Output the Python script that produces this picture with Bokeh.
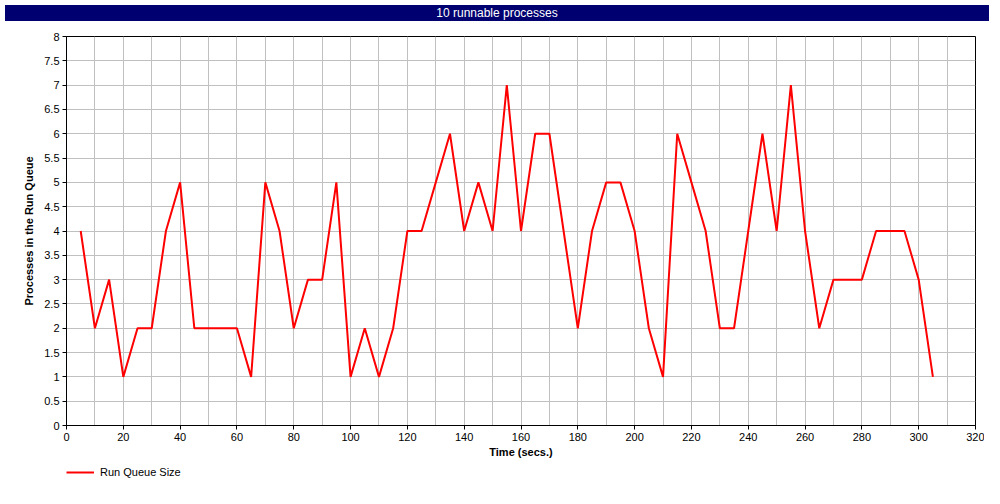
from bokeh.plotting import figure
from bokeh.models import Div, Legend, LegendItem, FixedTicker, Range1d
from bokeh.layouts import column
from bokeh.embed import file_html
from bokeh.resources import INLINE

# ---- data ----
title_text = "10 runnable processes"
series_name = "Run Queue Size"
time_secs = [5, 10, 15, 20, 25, 30, 35, 40, 45, 50, 55, 60, 65, 70, 75, 80, 85, 90,
             95, 100, 105, 110, 115, 120, 125, 130, 135, 140, 145, 150, 155, 160,
             165, 170, 175, 180, 185, 190, 195, 200, 205, 210, 215, 220, 225, 230,
             235, 240, 245, 250, 255, 260, 265, 270, 275, 280, 285, 290, 295, 300, 305]
run_queue = [4, 2, 3, 1, 2, 2, 4, 5, 2, 2, 2, 2, 1, 5, 4, 2, 3, 3,
             5, 1, 2, 1, 2, 4, 4, 5, 6, 4, 5, 4, 7, 4,
             6, 6, 4, 2, 4, 5, 5, 4, 2, 1, 6, 5, 4, 2,
             2, 4, 6, 4, 7, 4, 2, 3, 3, 3, 4, 4, 4, 3, 1]
x_major_ticks = [0, 20, 40, 60, 80, 100, 120, 140, 160, 180, 200, 220, 240, 260, 280, 300, 320]
x_grid_ticks = [0, 10, 20, 30, 40, 50, 60, 70, 80, 90, 100, 110, 120, 130, 140, 150, 160,
                170, 180, 190, 200, 210, 220, 230, 240, 250, 260, 270, 280, 290, 300, 310, 320]
y_ticks = [0, 0.5, 1, 1.5, 2, 2.5, 3, 3.5, 4, 4.5, 5, 5.5, 6, 6.5, 7, 7.5, 8]
x_label = "Time (secs.)"
y_label = "Processes in the Run Queue"

FONT = "Liberation Sans"
LINE_COLOR = "#ff0000"

header = Div(
    text=title_text, width=984, height=16,
    styles={"background-color": "#000070", "color": "white", "text-align": "center",
            "font-family": FONT, "font-size": "12px", "line-height": "16px"},
)

p = figure(frame_width=909, frame_height=389, output_backend="svg", toolbar_location=None,
           x_range=Range1d(0, 320), y_range=Range1d(0, 8),
           min_border_left=66, min_border_right=9, min_border_top=10, min_border_bottom=0)
p.outline_line_color = "black"
p.outline_line_width = 1
p.background_fill_color = "white"
p.border_fill_color = "white"

r = p.line(time_secs, run_queue, line_color=LINE_COLOR, line_width=2)

p.xaxis.ticker = FixedTicker(ticks=x_major_ticks)
p.yaxis.ticker = FixedTicker(ticks=y_ticks)
p.xgrid.ticker = FixedTicker(ticks=x_grid_ticks)
p.ygrid.ticker = FixedTicker(ticks=y_ticks)
p.yaxis.major_label_overrides = {t: f"{t:g}" for t in y_ticks}
p.xaxis.major_label_overrides = {t: f"{t:g}" for t in x_major_ticks}
for g in (p.xgrid, p.ygrid):
    g.grid_line_color = "#c0c0c0"
    g.grid_line_width = 1
for ax in (p.xaxis, p.yaxis):
    ax.axis_line_color = "black"
    ax.major_tick_line_color = "black"
    ax.minor_tick_line_color = None
    ax.major_tick_out = 4
    ax.major_tick_in = 0
    ax.major_label_text_font = FONT
    ax.major_label_text_font_size = "11px"
    ax.major_label_text_color = "black"
    ax.axis_label_text_font = FONT
    ax.axis_label_text_font_size = "11px"
    ax.axis_label_text_font_style = "bold"
    ax.axis_label_text_color = "black"
    ax.major_label_standoff = 3
p.xaxis.axis_label = x_label
p.yaxis.axis_label = y_label
p.xaxis.axis_label_standoff = 2
p.yaxis.axis_label_standoff = 6

# legend strip below the chart (the series is drawn out of its view; only the key shows)
lg = figure(width=984, height=28, output_backend="svg", toolbar_location=None,
            x_axis_location=None, y_axis_location=None,
            x_range=Range1d(1000, 1001), y_range=Range1d(1000, 1001), min_border=0)
lg.grid.visible = False
lg.outline_line_color = None
lg.background_fill_color = "white"
lg.border_fill_color = "white"
lr = lg.line(time_secs, run_queue, line_color=LINE_COLOR, line_width=2)
legend = Legend(items=[LegendItem(label=series_name, renderers=[lr])],
                location=(0, 10), orientation="horizontal",
                border_line_color=None, background_fill_alpha=0,
                label_text_font=FONT, label_text_font_size="11px",
                label_text_color="black", label_height=12,
                glyph_width=28, glyph_height=12, margin=0, padding=0,
                label_standoff=6)
lg.add_layout(legend)

layout = column(header, p, lg)

open("out.html", "w").write(file_html(layout, INLINE))
